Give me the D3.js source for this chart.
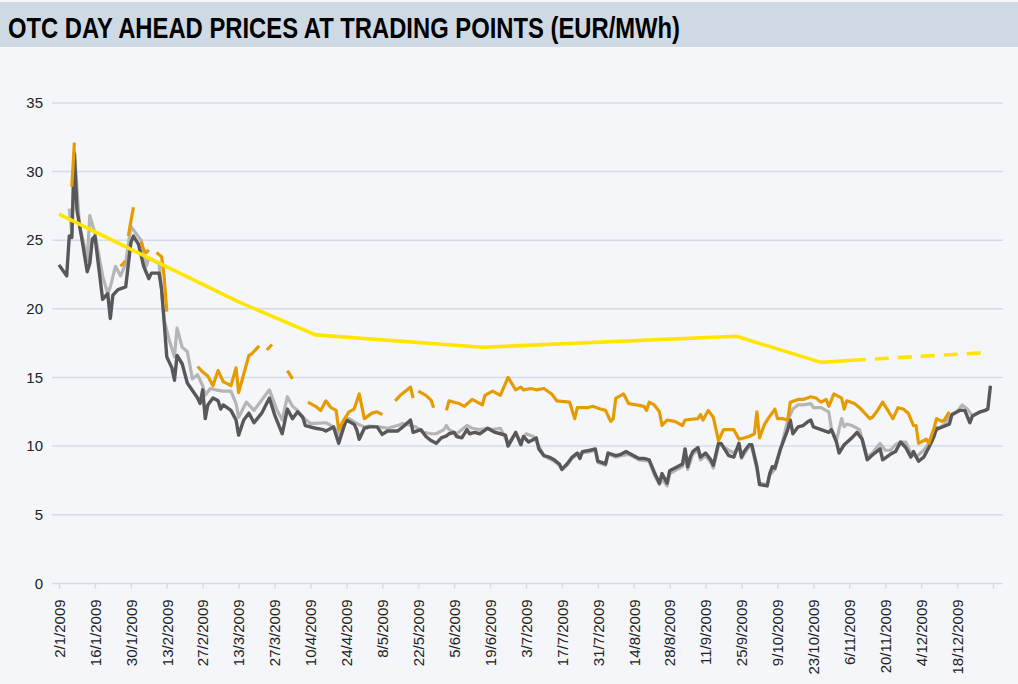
<!DOCTYPE html>
<html>
<head>
<meta charset="utf-8">
<script src="https://cdn.jsdelivr.net/npm/d3@7"></script>
<style>
  body { margin: 0; background: #f4f6f9; }
  svg { display: block; }
</style>
</head>
<body>
<div id="chart"></div>
<script>
// x values are day-of-year 2009, y values EUR/MWh
const xTickLabels = ['2/1/2009', '16/1/2009', '30/1/2009', '13/2/2009', '27/2/2009', '13/3/2009',
  '27/3/2009', '10/4/2009', '24/4/2009', '8/5/2009', '22/5/2009', '5/6/2009', '19/6/2009',
  '3/7/2009', '17/7/2009', '31/7/2009', '14/8/2009', '28/8/2009', '11/9/2009', '25/9/2009',
  '9/10/2009', '23/10/2009', '6/11/2009', '20/11/2009', '4/12/2009', '18/12/2009'];
const yTicks = [0, 5, 10, 15, 20, 25, 30, 35];

const darkSeries = [
  [2,23.2],[5,22.4],[6,25.3],[7,25.2],[8,31.3],[9,27.2],[11,25.0],[13,22.7],[14,23.3],[15,25.1],
  [16,25.3],[19,20.7],[21,21.1],[22,19.3],[23,21.0],[25,21.4],[28,21.6],[30,24.8],[31,25.3],[33,24.7],
  [35,23.1],[37,22.2],[38,22.6],[41,22.6],[42,21.4],[43,19.0],[44,16.5],[46,15.7],[47,14.8],[48,16.6],
  [50,16.0],[52,14.6],[56,13.5],[57,13.1],[58,14.1],[59,12.0],[60,13.0],[62,13.5],[64,13.3],[65,12.7],
  [66,13.0],[69,12.6],[71,11.9],[72,10.8],[74,11.9],[76,12.4],[78,11.7],[81,12.4],[84,13.5],[86,12.3],
  [89,10.9],[91,12.7],[93,12.0],[95,12.5],[97,12.1],[98,11.5],[102,11.3],[105,11.2],[106,11.1],[109,11.4],
  [110,10.8],[111,10.2],[113,11.4],[114,11.9],[117,11.6],[118,11.2],[119,10.5],[121,11.3],[123,11.4],[126,11.4],
  [128,10.85],[130,11.1],[134,11.1],[136,11.4],[139,11.9],[140,11.0],[143,11.2],[145,10.7],[147,10.4],[149,10.2],
  [151,10.6],[153,10.75],[154,10.9],[156,11.0],[157,10.7],[159,10.6],[161,11.2],[162,10.9],[164,11.0],[166,10.9],
  [169,11.3],[172,11.0],[174,10.9],[176,10.8],[177,10.0],[180,11.0],[182,10.1],[183,10.7],[185,10.3],[188,10.6],
  [189,9.8],[191,9.3],[193,9.2],[195,9.0],[197,8.7],[198,8.3],[200,8.7],[202,9.2],[204,9.5],[205,9.1],
  [206,9.6],[209,9.7],[211,9.8],[212,8.9],[215,8.7],[216,9.5],[219,9.3],[221,9.4],[223,9.6],[224,9.5],
  [226,9.3],[228,9.1],[230,9.1],[232,9.0],[234,8.1],[236,7.3],[237,8.0],[239,7.3],[240,8.2],[243,8.5],
  [245,8.7],[246,9.8],[247,8.5],[248,9.2],[249,9.6],[251,9.9],[252,9.2],[254,9.5],[256,9.0],[257,8.6],
  [259,10.2],[260,10.2],[263,9.3],[265,9.2],[267,10.2],[268,9.2],[269,9.6],[271,10.1],[272,10.1],[274,8.5],
  [275,7.2],[278,7.1],[279,8.0],[280,8.5],[281,8.4],[283,9.7],[286,11.2],[287,11.9],[288,10.9],[290,11.4],
  [292,11.5],[294,11.8],[295,11.9],[296,11.4],[299,11.2],[302,11.0],[303,11.2],[305,10.3],[306,9.5],[308,10.1],
  [311,10.6],[313,11.0],[315,10.5],[317,9.0],[319,9.35],[322,9.8],[323,9.0],[326,9.4],[328,9.6],[330,10.3],
  [332,9.9],[334,9.2],[335,9.6],[337,8.9],[339,9.2],[341,9.9],[343,10.7],[344,11.3],[345,11.3],[349,11.6],
  [350,12.3],[353,12.6],[355,12.6],[357,11.7],[358,12.2],[361,12.5],[363,12.6],[364,12.7],[365,14.4]
];

const lightSeries = [
  [6,27.3],[7,25.5],[8,31.5],[10,26.0],[12,24.5],[13,23.5],[14,26.8],[16,25.5],[19,22.4],[21,21.1],
  [22,21.6],[24,23.1],[26,22.4],[28,23.3],[30,26.0],[34,25.0],[36,23.1],[37,23.7],[41,23.3],[43,19.2],
  [45,17.7],[47,16.5],[48,18.6],[50,17.2],[52,16.9],[54,14.9],[55,15.05],[56,15.2],[58,14.4],[59,13.7],
  [61,14.2],[63,14.1],[66,14.0],[69,14.0],[71,13.1],[72,12.1],[75,13.2],[78,12.6],[80,13.1],[84,14.1],
  [87,12.6],[89,11.9],[91,13.6],[93,12.9],[95,12.6],[97,12.1],[100,11.65],[102,11.65],[106,11.7],[108,11.5],
  [110,11.2],[111,10.8],[113,11.9],[115,12.0],[118,11.65],[121,11.4],[123,11.45],[127,11.4],[130,11.3],[134,11.5],
  [136,11.65],[139,11.5],[141,11.4],[144,11.0],[147,10.9],[149,10.9],[152,11.2],[153,11.5],[154,11.2],[157,10.9],
  [161,11.5],[163,11.3],[166,11.2],[169,11.3],[171,11.2],[174,11.3],[177,10.2],[180,10.9],[182,10.3],[184,10.9],
  [187,10.7],[189,10.0],[191,9.3],[193,9.1],[195,8.9],[197,8.6],[198,8.3],[200,8.6],[202,9.1],[204,9.4],
  [206,9.5],[209,9.6],[211,9.7],[212,8.8],[215,8.6],[216,9.4],[219,9.2],[221,9.3],[224,9.4],[228,9.0],
  [232,8.9],[234,7.9],[236,7.2],[237,7.6],[239,7.1],[240,8.0],[243,8.3],[245,8.5],[246,9.5],[247,8.3],
  [249,9.4],[251,9.7],[252,9.0],[254,9.3],[256,8.8],[257,8.4],[259,10.0],[260,10.1],[263,9.7],[265,9.5],
  [267,10.0],[268,9.1],[271,10.0],[272,9.9],[274,8.3],[275,7.3],[278,7.2],[279,7.9],[281,8.3],[283,9.6],
  [286,11.9],[288,12.7],[290,13.0],[292,13.0],[295,13.1],[296,12.8],[299,12.8],[302,12.5],[303,11.3],[305,10.4],
  [307,12.0],[308,11.4],[309,11.6],[311,11.5],[314,11.2],[317,9.2],[319,9.5],[322,10.2],[324,9.7],[326,9.7],
  [328,10.1],[330,10.3],[332,10.3],[334,9.5],[336,9.2],[339,9.7],[341,10.2],[343,11.0],[347,11.6],[349,12.1],
  [352,12.5],[354,13.0],[356,12.7],[358,12.2],[360,12.4],[364,12.7]
];

// null marks a gap in the orange series
const orangeSeries = [
  [7,28.9],[8,32.1],[9,null],
  [26,23.1],[28,23.5],[28.5,null],
  [29,25.3],[31,27.4],[32,null],
  [34,24.9],[35,24.3],[36,24.1],[37,24.3],[38,null],
  [40,24.1],[42,23.8],[43,22.3],[44,19.8],[45,null],
  [56,15.8],[58,15.4],[60,15.1],[62,14.4],[64,15.5],[66,14.7],[69,14.4],[71,15.7],[72,13.9],[76,16.6],
  [77,16.7],[80,17.3],[81,null],
  [83,17.0],[85,17.4],[86,null],
  [91,15.5],[93,14.9],[94,null],
  [99,13.2],[102,12.9],[104,12.6],[106,13.3],[108,12.8],[110,12.6],[111,11.2],[113,11.9],[115,12.5],[117,12.7],
  [119,13.8],[121,12.0],[124,12.4],[126,12.5],[128,12.3],[129,null],
  [133,13.3],[135,13.7],[137,14.0],[139,14.3],[140,13.5],[141,null],
  [142,14.0],[145,13.7],[147,13.35],[148,12.8],[149,null],
  [153,12.6],[154,13.3],[156,13.2],[158,13.1],[160,12.9],[163,13.4],[167,13.0],[168,13.7],[171,14.0],[174,13.7],
  [177,15.0],[180,14.1],[182,14.3],[183,14.1],[186,14.2],[188,14.1],[191,14.2],[194,13.8],[196,13.3],[201,13.2],
  [203,12.0],[204,12.8],[208,12.8],[210,12.9],[213,12.7],[215,12.6],[217,11.8],[218,12.0],[219,13.5],[221,13.7],
  [222,13.8],[224,13.1],[227,13.0],[230,12.9],[231,12.6],[232,13.2],[234,13.0],[236,12.5],[237,11.5],[239,11.9],
  [242,11.8],[245,11.5],[246,11.9],[251,12.0],[252,12.3],[253,11.9],[255,12.6],[257,12.1],[259,10.4],[261,11.2],
  [265,11.2],[267,10.5],[271,10.7],[273,10.9],[274,12.5],[275,10.6],[277,11.6],[278,11.9],[281,12.7],[282,12.0],
  [284,12.0],[286,11.9],[287,13.2],[290,13.4],[292,13.4],[295,13.6],[297,13.5],[299,13.2],[301,13.4],[302,12.9],
  [304,13.8],[306,13.6],[307,13.5],[308,12.7],[309,13.3],[312,13.1],[314,12.8],[316,12.4],[318,12.0],[319,12.1],
  [321,12.6],[323,13.2],[325,12.6],[327,12.0],[329,12.8],[331,12.7],[333,12.4],[335,11.5],[336,11.5],[337,10.2],
  [340,10.5],[341,10.2],[343,11.3],[344,12.0],[346,11.8],[347,11.9],[349,12.5]
];

const yellowSeries = [[2,26.9],[72,20.5],[102,18.1],[167,17.2],[266,18.0],[299,16.1],[311,16.25]];
const yellowForecast = [[311,16.25],[362,16.8]];

const W = 1018, H = 684;
const parseDate = d3.timeParse('%d/%m/%Y');
const dayDate = d => new Date(2009, 0, d);

const svg = d3.select('#chart').append('svg')
  .attr('width', W)
  .attr('height', H);

svg.append('rect').attr('width', W).attr('height', H).attr('fill', '#f4f6f9');

// title bar
svg.append('rect').attr('x', 0).attr('y', 2).attr('width', W).attr('height', 45).attr('fill', '#cfd9e3');
svg.append('text')
  .attr('x', 8).attr('y', 38)
  .attr('font-family', "'Liberation Sans', Arial, sans-serif")
  .attr('font-weight', 'bold')
  .attr('font-size', 30)
  .attr('textLength', 672)
  .attr('lengthAdjust', 'spacingAndGlyphs')
  .attr('fill', '#000')
  .text('OTC DAY AHEAD PRICES AT TRADING POINTS (EUR/MWh)');

const x = d3.scaleTime()
  .domain([parseDate('2/1/2009'), parseDate('1/1/2010')])
  .range([59, 993]);
const y = d3.scaleLinear().domain([0, 35]).range([583.4, 102.9]);

// gridlines
svg.append('g')
  .selectAll('line')
  .data(yTicks)
  .join('line')
  .attr('x1', 52).attr('x2', 1003)
  .attr('y1', d => y(d)).attr('y2', d => y(d))
  .attr('stroke', '#d3dce8')
  .attr('stroke-width', 1.5);

// y axis labels
const yAxis = svg.append('g')
  .attr('transform', 'translate(52,0)')
  .call(d3.axisLeft(y).tickValues(yTicks).tickSize(0).tickPadding(9));
yAxis.select('.domain').remove();
yAxis.selectAll('text')
  .attr('font-family', "'Liberation Sans', Arial, sans-serif")
  .attr('font-size', 15)
  .attr('fill', '#222');

// x axis
const tickDates = xTickLabels.map(parseDate).concat([parseDate('1/1/2010')]);
const xAxis = svg.append('g')
  .attr('transform', 'translate(0,583.4)')
  .call(d3.axisBottom(x)
    .tickValues(tickDates)
    .tickSize(5)
    .tickFormat((d, i) => xTickLabels[i] || ''));
xAxis.select('.domain').remove();
xAxis.selectAll('.tick line').attr('stroke', '#d3dce8').attr('stroke-width', 1.5);
xAxis.selectAll('text')
  .attr('font-family', "'Liberation Sans', Arial, sans-serif")
  .attr('font-size', 15)
  .attr('fill', '#222')
  .attr('text-anchor', 'end')
  .attr('transform', 'rotate(-90)')
  .attr('x', -16)
  .attr('y', 0)
  .attr('dy', '0.35em');

const line = d3.line()
  .defined(d => d[1] != null)
  .x(d => x(dayDate(d[0])))
  .y(d => y(d[1]));

const series = [
  { data: lightSeries,  color: '#b5b5b5', width: 3.2 },
  { data: darkSeries,   color: '#58585a', width: 3.4 },
  { data: orangeSeries, color: '#e69c00', width: 3.2 },
  { data: yellowSeries, color: '#ffe500', width: 3.6 },
];

svg.append('g')
  .selectAll('path')
  .data(series)
  .join('path')
  .attr('d', d => line(d.data))
  .attr('fill', 'none')
  .attr('stroke', d => d.color)
  .attr('stroke-width', d => d.width)
  .attr('stroke-linejoin', 'round');

svg.append('path')
  .attr('d', line(yellowForecast))
  .attr('fill', 'none')
  .attr('stroke', '#ffe500')
  .attr('stroke-width', 3.6)
  .attr('stroke-dasharray', '14,9');
</script>
</body>
</html>
